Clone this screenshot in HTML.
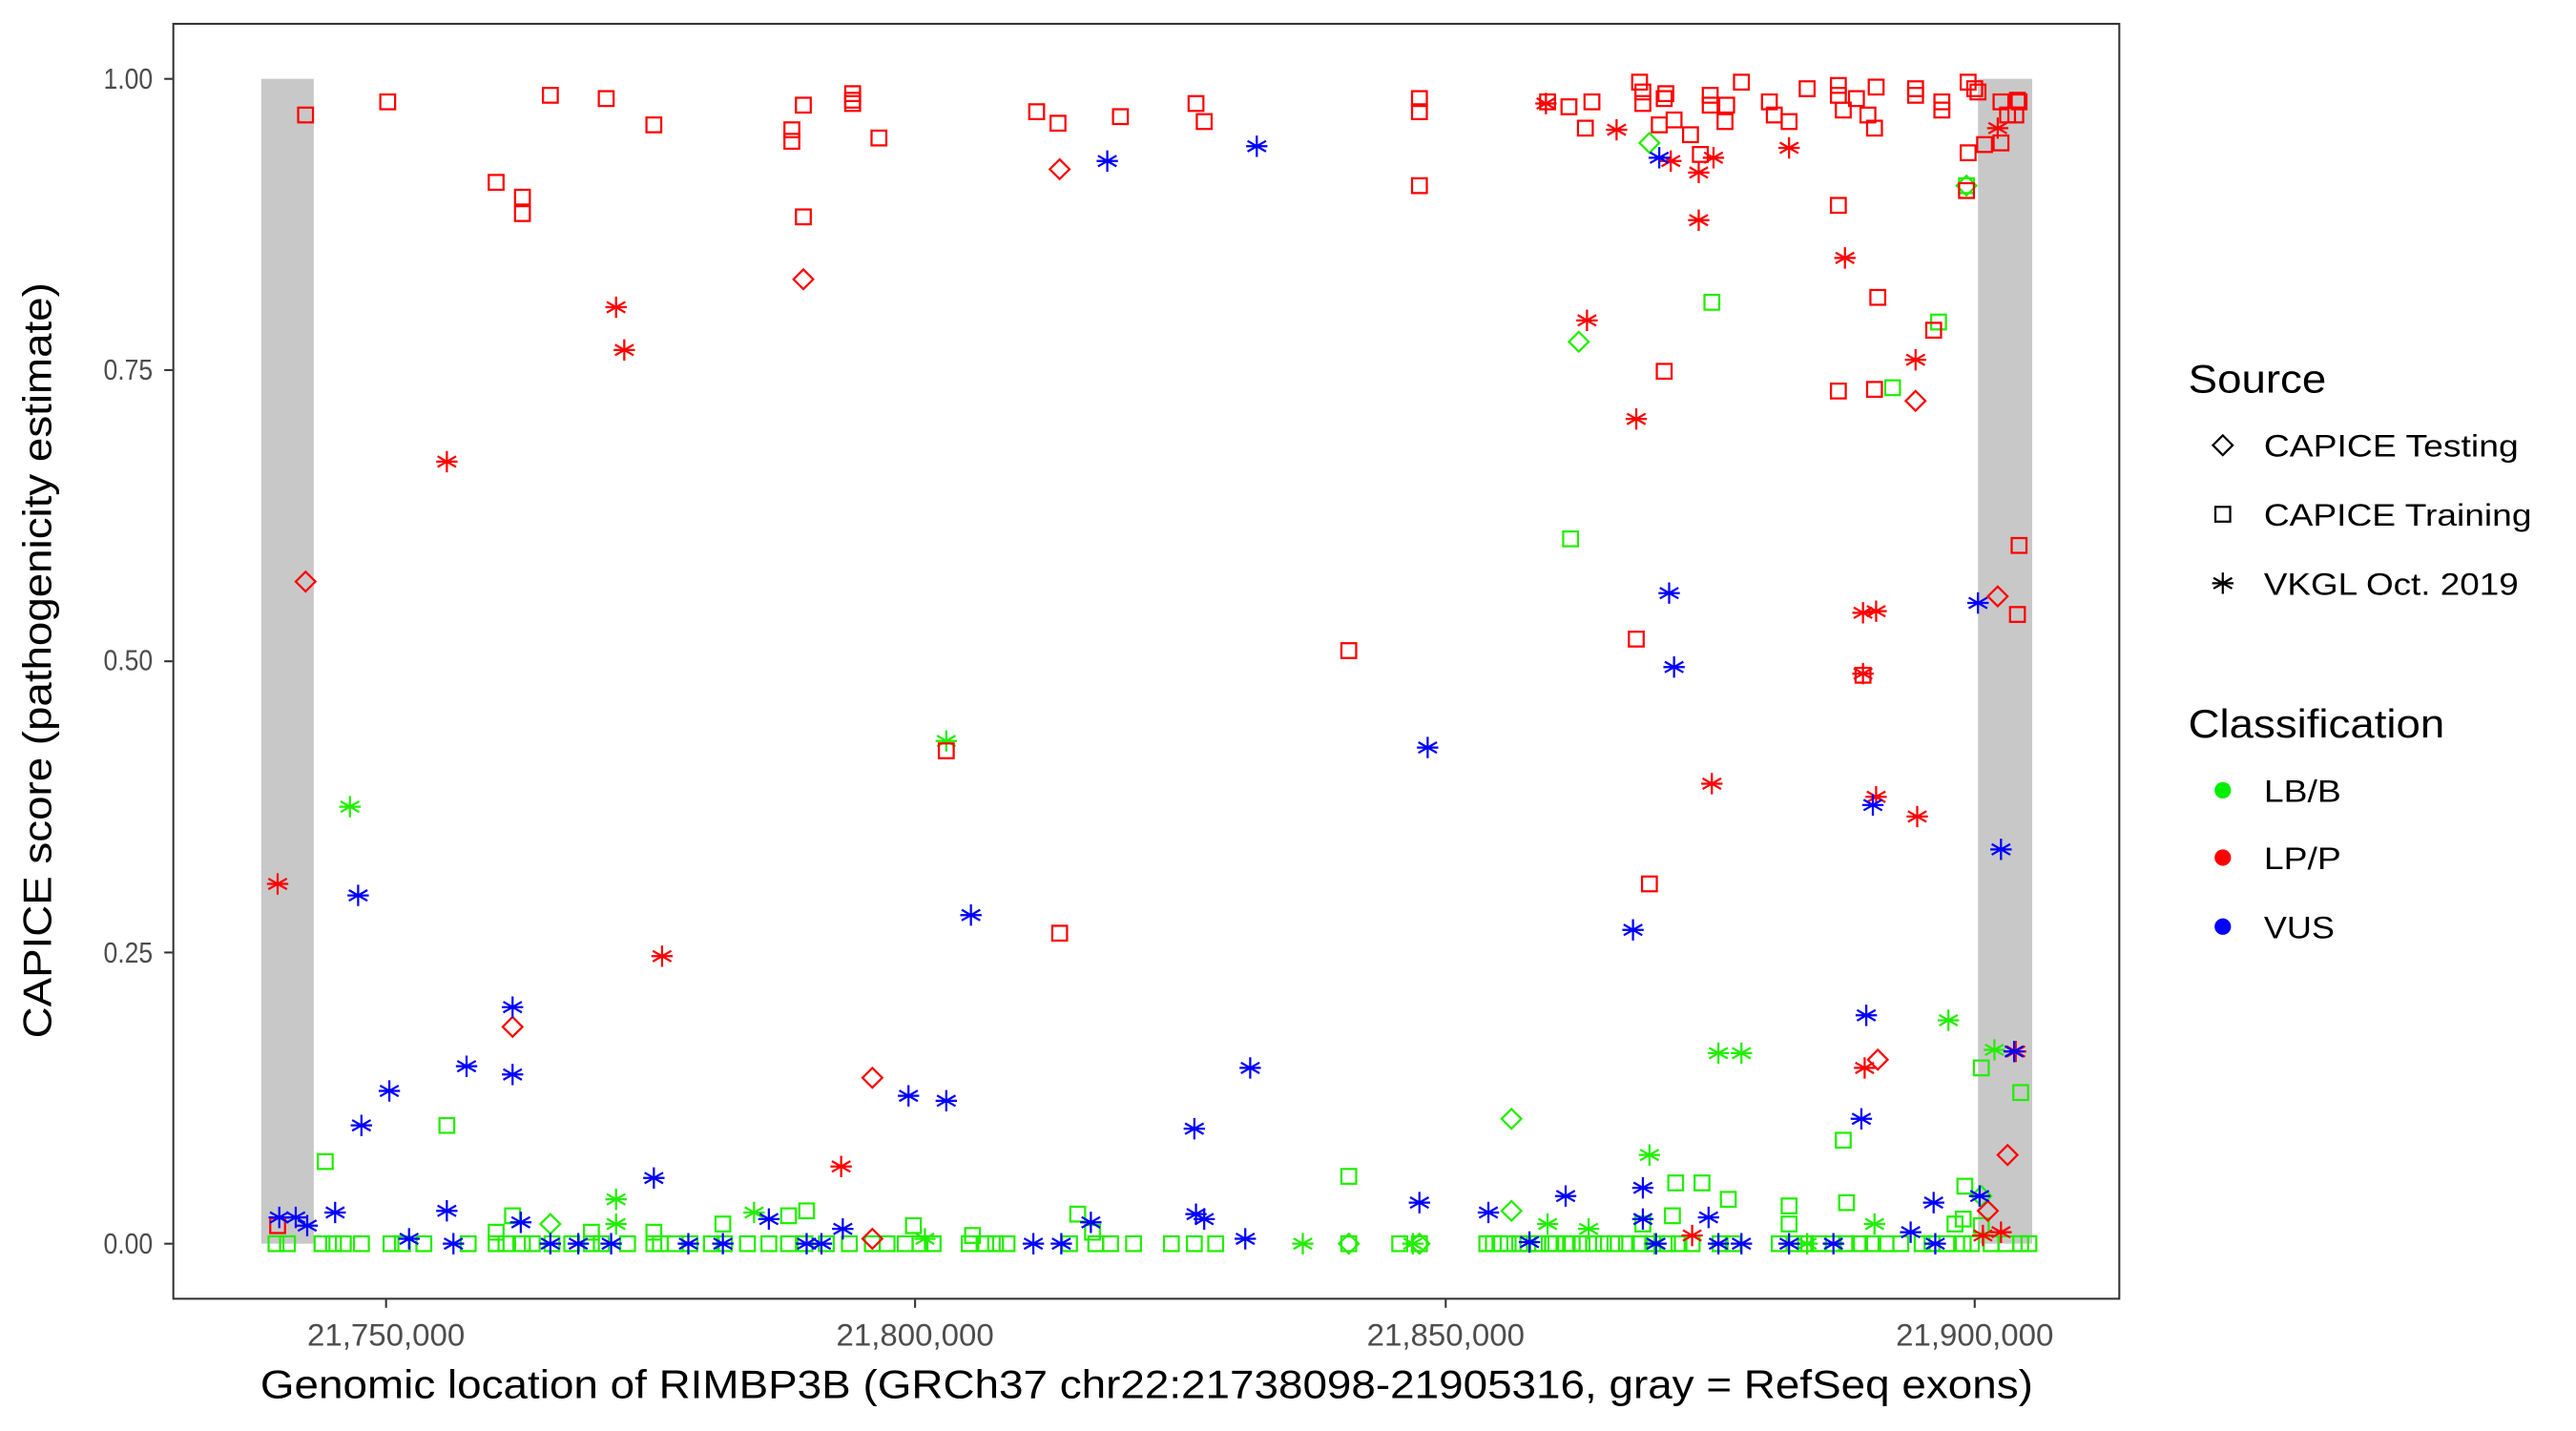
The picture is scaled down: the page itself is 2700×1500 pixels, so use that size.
<!DOCTYPE html>
<html><head><meta charset="utf-8"><style>
html,body{margin:0;padding:0;background:#fff}
svg{display:block}
text{font-family:"Liberation Sans",Arial,sans-serif}
</style></head><body>
<svg id="s" width="2700" height="1500" viewBox="0 0 1568 871" preserveAspectRatio="none" xmlns="http://www.w3.org/2000/svg">
<rect x="0" y="0" width="1568" height="871" fill="#fff"/>
<rect x="159" y="48" width="32" height="709" fill="#c8c8c8"/>
<rect x="1204" y="48" width="33" height="709" fill="#c8c8c8"/>
<g id="pts" fill="none" stroke-width="1.3"></g>
<rect x="105.5" y="14.5" width="1184.5" height="776" fill="none" stroke="#333" stroke-width="1.2"/>
<g stroke="#333" stroke-width="1.2">
<line x1="100" x2="105" y1="48" y2="48"/><line x1="100" x2="105" y1="225.25" y2="225.25"/><line x1="100" x2="105" y1="402.5" y2="402.5"/><line x1="100" x2="105" y1="579.75" y2="579.75"/><line x1="100" x2="105" y1="757" y2="757"/>
<line x1="235" x2="235" y1="791" y2="796"/><line x1="557" x2="557" y1="791" y2="796"/><line x1="880" x2="880" y1="791" y2="796"/><line x1="1202" x2="1202" y1="791" y2="796"/>
</g>
<g fill="#4d4d4d" font-size="18" text-anchor="end">
<text x="93" y="54" textLength="30" lengthAdjust="spacingAndGlyphs">1.00</text><text x="93" y="231" textLength="30" lengthAdjust="spacingAndGlyphs">0.75</text><text x="93" y="408" textLength="30" lengthAdjust="spacingAndGlyphs">0.50</text><text x="93" y="586" textLength="30" lengthAdjust="spacingAndGlyphs">0.25</text><text x="93" y="763" textLength="30" lengthAdjust="spacingAndGlyphs">0.00</text>
</g>
<g fill="#4d4d4d" font-size="19" text-anchor="middle">
<text x="235" y="819" textLength="96" lengthAdjust="spacingAndGlyphs">21,750,000</text><text x="557" y="819" textLength="96" lengthAdjust="spacingAndGlyphs">21,800,000</text><text x="880" y="819" textLength="96" lengthAdjust="spacingAndGlyphs">21,850,000</text><text x="1202" y="819" textLength="96" lengthAdjust="spacingAndGlyphs">21,900,000</text>
</g>
<text x="698" y="851" font-size="24" text-anchor="middle" textLength="1079" lengthAdjust="spacingAndGlyphs">Genomic location of RIMBP3B (GRCh37 chr22:21738098-21905316, gray = RefSeq exons)</text>
<text transform="translate(31,402) rotate(-90)" font-size="24" text-anchor="middle" textLength="460" lengthAdjust="spacingAndGlyphs">CAPICE score (pathogenicity estimate)</text>
<text x="1332" y="239" font-size="24" textLength="84" lengthAdjust="spacingAndGlyphs">Source</text>
<text x="1378" y="278" font-size="19" textLength="155" lengthAdjust="spacingAndGlyphs">CAPICE Testing</text>
<text x="1378" y="320" font-size="19" textLength="163" lengthAdjust="spacingAndGlyphs">CAPICE Training</text>
<text x="1378" y="362" font-size="19" textLength="155" lengthAdjust="spacingAndGlyphs">VKGL Oct. 2019</text>
<text x="1332" y="449" font-size="24" textLength="156" lengthAdjust="spacingAndGlyphs">Classification</text>
<text x="1378" y="488" font-size="19" textLength="47" lengthAdjust="spacingAndGlyphs">LB/B</text>
<text x="1378" y="529" font-size="19" textLength="47" lengthAdjust="spacingAndGlyphs">LP/P</text>
<text x="1378" y="571" font-size="19" textLength="43" lengthAdjust="spacingAndGlyphs">VUS</text>
<g id="leg" fill="none" stroke="#000" stroke-width="1.3"></g>
<circle cx="1353" cy="481" r="5" fill="#00ee00"/>
<circle cx="1353" cy="522" r="5" fill="#ff0000"/>
<circle cx="1353" cy="564" r="5" fill="#0000ff"/>
</svg>
<script>
var NS="http://www.w3.org/2000/svg";
var G="#22ee00",R="#ff0000",B="#0000ff";
var g=document.getElementById("pts");
function el(par,tag,attrs){var e=document.createElementNS(NS,tag);for(var k in attrs)e.setAttribute(k,attrs[k]);par.appendChild(e);return e;}
function sq(p,x,y,c){el(p,"rect",{x:x-4.5,y:y-4.5,width:9,height:9,stroke:c});}
function di(p,x,y,c){el(p,"path",{d:"M"+x+" "+(y-6)+"L"+(x+6)+" "+y+"L"+x+" "+(y+6)+"L"+(x-6)+" "+y+"Z",stroke:c});}
function as(p,x,y,c){var r=6.5,d="";for(var i=0;i<3;i++){var a=Math.PI/2+i*Math.PI/3;d+="M"+(x+r*Math.cos(a))+" "+(y+r*Math.sin(a))+"L"+(x-r*Math.cos(a))+" "+(y-r*Math.sin(a));}
d+="M"+(x-r)+" "+y+"L"+(x+r)+" "+y;el(p,"path",{d:d,stroke:c});}
var gs=[168,175,196,203,209,220,238,245,258,285,302,308,318,324,336,348,360,366,382,398,402,411,420,433,441,455,468,480,490,503,517,531,540,551,560,568,590,600,606,613,651,667,676,690,713,727,740,821,852,864,905,909,913,918,925,930,936,943,947,953,957,963,970,976,983,990,998,1006,1015,1022,1030,1047,1055,1083,1092,1099,1107,1116,1124,1132,1140,1148,1157,1170,1176,1185,1195,1200,1212,1221,1230,1235];
gs.forEach(function(x){sq(g,x,757,G);});
[[302,750],[360,750],[398,750],[440,745],[480,740],[491,737],[556,746],[592,752],[656,739],[665,750],[1000,745],[1018,740],[1089,745],[1195,742],[1206,746],[1196,722],[1190,745],[198,707],[272,685],[312,740],[821,716],[956,328],[1042,184],[1180,196],[1152,236],[1197,113],[1122,694],[1206,650],[1230,665],[1020,720],[1036,720],[1052,730],[1089,734],[1124,732]].forEach(function(p){sq(g,p[0],p[1],G);});
[[1004,87],[961,208],[1197,113],[920,681],[920,737],[335,745],[821,757],[864,757],[1206,728]].forEach(function(p){di(g,p[0],p[1],G);});
[[213,491],[576,451],[1004,703],[1046,641],[1060,641],[1186,621],[1214,639],[375,730],[375,745],[459,738],[563,754],[793,757],[860,757],[942,745],[967,748],[1141,745],[1007,757],[1100,757]].forEach(function(p){as(g,p[0],p[1],G);});
[[186,70],[236,62],[302,111],[318,120],[318,130],[335,58],[369,60],[398,76],[482,79],[482,86],[489,64],[489,132],[519,57],[519,61],[519,63],[535,84],[631,68],[644,75],[682,71],[728,63],[733,74],[864,60],[864,68],[864,113],[942,62],[955,65],[965,78],[969,62],[998,50],[1000,56],[1000,63],[1010,76],[1013,60],[1014,57],[1019,73],[1029,82],[1035,94],[1041,64],[1041,58],[1050,74],[1051,64],[1060,50],[1077,62],[1080,70],[1089,74],[1100,54],[1119,52],[1119,58],[1122,67],[1130,60],[1137,70],[1141,78],[1142,53],[1166,54],[1166,58],[1182,62],[1182,67],[1198,50],[1202,54],[1204,56],[1208,88],[1198,93],[1218,62],[1218,87],[1222,70],[1227,70],[1228,61],[1229,62],[1119,125],[1143,181],[1119,238],[1141,237],[1177,201],[1013,226],[996,389],[1004,538],[1134,411],[821,396],[576,457],[645,568],[1229,332],[1228,374],[169,746],[1197,116]].forEach(function(p){sq(g,p[0],p[1],R);});
[[186,354],[489,170],[645,103],[312,625],[531,656],[531,754],[1166,244],[1143,645],[1222,703],[1210,737],[1216,363]].forEach(function(p){di(g,p[0],p[1],R);});
[[169,538],[272,281],[375,187],[380,213],[403,582],[512,710],[941,63],[984,79],[966,195],[996,255],[1017,98],[1034,105],[1034,134],[1043,96],[1042,477],[1089,90],[1123,157],[1134,373],[1134,410],[1142,485],[1167,497],[1166,219],[1142,372],[1216,78],[1218,750],[1207,752],[1227,640],[1030,752],[1135,650]].forEach(function(p){as(g,p[0],p[1],R);});
[[674,98],[765,89],[869,455],[1010,96],[1016,361],[1019,406],[994,566],[1140,490],[1136,618],[1133,681],[1204,367],[1218,517],[1226,640],[218,545],[284,649],[312,613],[312,654],[237,664],[220,685],[170,741],[180,741],[187,746],[204,738],[249,754],[272,737],[276,757],[317,744],[335,757],[352,757],[372,757],[398,717],[419,757],[440,757],[468,742],[491,757],[500,757],[513,748],[553,667],[576,670],[591,557],[629,757],[646,757],[664,744],[728,739],[733,742],[761,650],[758,754],[727,687],[864,732],[906,738],[953,728],[931,756],[1000,723],[1000,742],[1008,757],[1040,741],[1046,757],[1060,757],[1089,757],[1116,757],[1163,750],[1177,732],[1205,728],[1178,757]].forEach(function(p){as(g,p[0],p[1],B);});
var L=document.getElementById("leg");
di(L,1353,271,"#000");sq(L,1353,313,"#000");as(L,1353,355,"#000");
</script>
</body></html>
